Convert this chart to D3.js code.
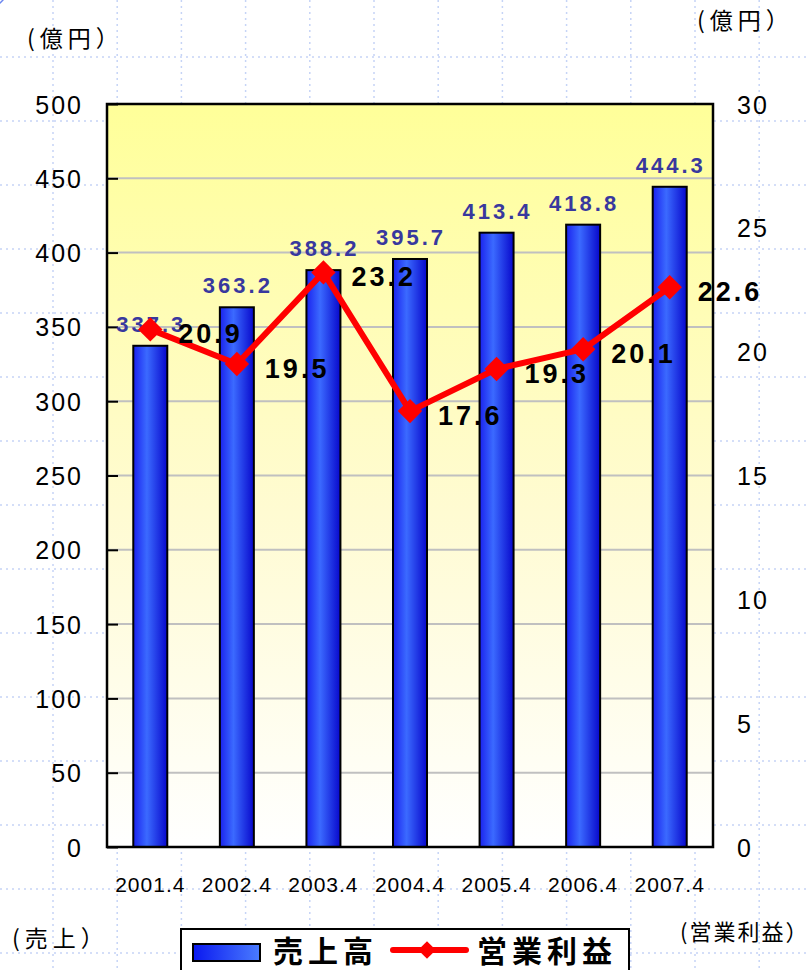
<!DOCTYPE html>
<meta charset="utf-8">
<style>
  body { margin: 0; background: #fff; }
  svg { display: block; }
  text { font-family: "Liberation Sans", Arial, sans-serif; }
  .jp { font-family: "Noto Sans CJK JP", sans-serif; }
</style>
<svg width="809" height="970"></svg>
<script src="https://d3js.org/d3.v7.min.js"></script>
<script>

// data
var years = ["2001.4", "2002.4", "2003.4", "2004.4", "2005.4", "2006.4", "2007.4"]
var sales = [337.3, 363.2, 388.2, 395.7, 413.4, 418.8, 444.3]
var profit = [20.9, 19.5, 23.2, 17.6, 19.3, 20.1, 22.6]
var salesTicks = [0, 50, 100, 150, 200, 250, 300, 350, 400, 450, 500]
var profitTicks = [0, 5, 10, 15, 20, 25, 30]

var width = 809
var height = 970
var plot = { left: 107, right: 713, top: 104, bottom: 847 }

var svg = d3.select("svg")

var defs = svg.append("defs")

var bg = defs.append("linearGradient")
    .attr("id", "plotBg")
    .attr("x1", 0).attr("y1", 0).attr("x2", 0).attr("y2", 1)
bg.append("stop").attr("offset", "0%").attr("stop-color", "#ffff99")
bg.append("stop").attr("offset", "55%").attr("stop-color", "#fffbd2")
bg.append("stop").attr("offset", "100%").attr("stop-color", "#ffffff")

var barGrad = defs.append("linearGradient")
    .attr("id", "barGrad")
    .attr("x1", 0).attr("y1", 0).attr("x2", 1).attr("y2", 0)
barGrad.append("stop").attr("offset", "0%").attr("stop-color", "#1a22ee")
barGrad.append("stop").attr("offset", "40%").attr("stop-color", "#3b6aff")
barGrad.append("stop").attr("offset", "100%").attr("stop-color", "#0808cc")

var legGrad = defs.append("linearGradient")
    .attr("id", "legGrad")
    .attr("x1", 0).attr("y1", 0).attr("x2", 1).attr("y2", 0)
legGrad.append("stop").attr("offset", "0%").attr("stop-color", "#0a18f0")
legGrad.append("stop").attr("offset", "100%").attr("stop-color", "#4a7cff")

// dotted background grid of the slide
var gridBack = svg.append("g")
    .attr("stroke", "#c6d4f6")
    .attr("stroke-width", 1.5)
    .attr("stroke-dasharray", "2,4")
d3.range(53, width, 64.2).forEach(function (x) {
  gridBack.append("line").attr("x1", x).attr("x2", x).attr("y1", 0).attr("y2", height)
})
d3.range(57, height, 64).forEach(function (y) {
  gridBack.append("line").attr("x1", 0).attr("x2", width).attr("y1", y).attr("y2", y)
})

svg.append("circle")
    .attr("cx", -14).attr("cy", -14).attr("r", 22)
    .attr("fill", "none").attr("stroke", "#6b86f0").attr("stroke-width", 1.5)

// scales
var x = d3.scaleBand()
    .domain(years)
    .range([plot.left, plot.right])

var ySales = d3.scaleLinear()
    .domain([0, 500])
    .range([plot.bottom, plot.top])

var yProfit = d3.scaleLinear()
    .domain([0, 30])
    .range([plot.bottom, plot.top])

// plot area
svg.append("rect")
    .attr("x", plot.left).attr("y", plot.top)
    .attr("width", plot.right - plot.left)
    .attr("height", plot.bottom - plot.top)
    .attr("fill", "url(#plotBg)")

svg.append("g")
  .selectAll("line")
  .data(salesTicks.slice(1, -1))
  .enter().append("line")
    .attr("x1", plot.left).attr("x2", plot.right)
    .attr("y1", ySales).attr("y2", ySales)
    .attr("stroke", "#c0c0c0")
    .attr("stroke-width", 2)

// left axis
var leftAxis = svg.append("g")
    .attr("transform", "translate(" + plot.left + ",0)")
    .call(d3.axisLeft(ySales).tickValues(salesTicks).tickSize(-11).tickPadding(24))
leftAxis.select(".domain").remove()
leftAxis.selectAll(".tick line").attr("stroke", "#000").attr("stroke-width", 2)
leftAxis.selectAll(".tick text")
    .attr("fill", "#000")
    .style("font-size", "25px")
    .style("font-family", "Liberation Sans, Arial, sans-serif")
    .style("letter-spacing", "2px")
    .attr("dy", "0.36em")

// right axis
var rightAxis = svg.append("g")
    .attr("transform", "translate(" + plot.right + ",0)")
    .call(d3.axisRight(yProfit).tickValues(profitTicks).tickSize(0).tickPadding(24))
rightAxis.select(".domain").remove()
rightAxis.selectAll(".tick text")
    .attr("fill", "#000")
    .style("font-size", "25px")
    .style("font-family", "Liberation Sans, Arial, sans-serif")
    .style("letter-spacing", "2px")
    .attr("dy", "0.36em")

// category axis
var bottomAxis = svg.append("g")
    .attr("transform", "translate(0," + plot.bottom + ")")
    .call(d3.axisBottom(x).tickSize(0).tickPadding(30))
bottomAxis.select(".domain").remove()
bottomAxis.selectAll(".tick text")
    .attr("fill", "#000")
    .style("font-size", "21px")
    .style("font-family", "Liberation Sans, Arial, sans-serif")
    .style("letter-spacing", "1px")

// bars
var barW = 34
svg.append("g")
  .selectAll("rect")
  .data(sales)
  .enter().append("rect")
    .attr("x", function (d, i) { return x(years[i]) + x.bandwidth() / 2 - barW / 2 })
    .attr("y", function (d) { return ySales(d) })
    .attr("width", barW)
    .attr("height", function (d) { return plot.bottom - ySales(d) })
    .attr("fill", "url(#barGrad)")
    .attr("stroke", "#000")
    .attr("stroke-width", 2)

// frame of the plot
svg.append("rect")
    .attr("x", plot.left).attr("y", plot.top)
    .attr("width", plot.right - plot.left)
    .attr("height", plot.bottom - plot.top)
    .attr("fill", "none")
    .attr("stroke", "#000")
    .attr("stroke-width", 2.5)

// sales labels
svg.append("g")
  .selectAll("text")
  .data(sales)
  .enter().append("text")
    .attr("x", function (d, i) { return x(years[i]) + x.bandwidth() / 2 + 1 })
    .attr("y", function (d) { return ySales(d) - 14 })
    .attr("text-anchor", "middle")
    .attr("fill", "#38389e")
    .style("font-size", "22px")
    .style("font-weight", "bold")
    .style("letter-spacing", "3px")
    .text(function (d) { return d.toFixed(1) })

// profit line
var line = d3.line()
    .x(function (d, i) { return x(years[i]) + x.bandwidth() / 2 })
    .y(function (d) { return yProfit(d) })

svg.append("path")
    .datum(profit)
    .attr("d", line)
    .attr("fill", "none")
    .attr("stroke", "#ff0000")
    .attr("stroke-width", 6)
    .attr("stroke-linejoin", "round")

var diamond = d3.symbol().type(d3.symbolDiamond2).size(380)
svg.append("g")
  .selectAll("path")
  .data(profit)
  .enter().append("path")
    .attr("transform", function (d, i) {
      return "translate(" + (x(years[i]) + x.bandwidth() / 2) + "," + yProfit(d) + ")"
    })
    .attr("d", diamond)
    .attr("fill", "#ff0000")

// profit labels
svg.append("g")
  .selectAll("text")
  .data(profit)
  .enter().append("text")
    .attr("x", function (d, i) { return x(years[i]) + x.bandwidth() / 2 + 28 })
    .attr("y", function (d) { return yProfit(d) + 14 })
    .attr("fill", "#000")
    .style("font-size", "27px")
    .style("font-weight", "bold")
    .style("letter-spacing", "3px")
    .text(function (d) { return d.toFixed(1) })

// unit captions
function caption(txt, x0, y0, size, sp) {
  svg.append("text")
      .attr("class", "jp")
      .attr("x", x0).attr("y", y0)
      .attr("fill", "#000")
      .style("font-size", size + "px")
      .style("letter-spacing", sp + "px")
      .text(txt)
}
caption("(億円）", 27, 47, 23, 5)
caption("(億円）", 697, 29, 23, 5)
caption("(売上）", 12, 947, 23, 5)
caption("(営業利益）", 680, 940, 22, 2)

// legend
var legend = svg.append("g")
legend.append("rect")
    .attr("x", 181).attr("y", 929)
    .attr("width", 448).attr("height", 60)
    .attr("fill", "#fff")
    .attr("stroke", "#000")
    .attr("stroke-width", 2)
legend.append("rect")
    .attr("x", 193).attr("y", 944)
    .attr("width", 67).attr("height", 17)
    .attr("fill", "url(#legGrad)")
    .attr("stroke", "#000")
    .attr("stroke-width", 2)
legend.append("text")
    .attr("class", "jp")
    .attr("x", 273).attr("y", 962)
    .style("font-size", "30px")
    .style("font-weight", "bold")
    .style("letter-spacing", "5px")
    .text("売上高")
legend.append("line")
    .attr("x1", 393).attr("x2", 466)
    .attr("y1", 950).attr("y2", 950)
    .attr("stroke", "#ff0000")
    .attr("stroke-width", 6)
    .attr("stroke-linecap", "round")
legend.append("path")
    .attr("transform", "translate(427,950)")
    .attr("d", d3.symbol().type(d3.symbolDiamond2).size(200))
    .attr("fill", "#ff0000")
legend.append("text")
    .attr("class", "jp")
    .attr("x", 477).attr("y", 962)
    .style("font-size", "30px")
    .style("font-weight", "bold")
    .style("letter-spacing", "5px")
    .text("営業利益")

</script>
